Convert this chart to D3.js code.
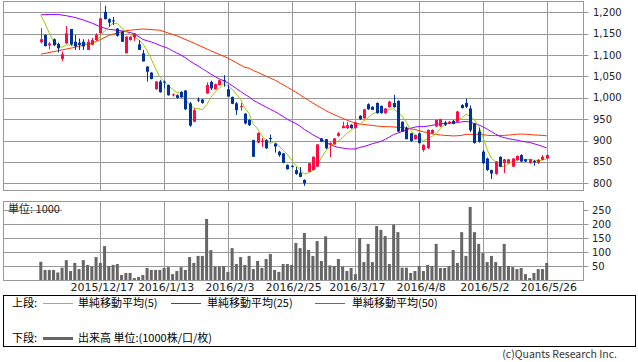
<!DOCTYPE html>
<html><head><meta charset="utf-8">
<script src="https://cdn.jsdelivr.net/npm/d3@7"></script>
<style>
body{margin:0;background:#fff}
svg{display:block;font-family:"Noto Sans CJK JP","Noto Sans",sans-serif}
.num{font-family:"DejaVu Sans",sans-serif}
</style>
</head><body><div id="chart"></div>
<script>
var width = 638, height = 362;

// daily bars, 2015/11/27 .. 2016/5/26
var open = [1130,1147,1123,1137,1126,1091,1127,1161,1131,1129,
  1131,1112,1124,1135,1151,1201,1184,1181,1162,1155,
  1104,1135,1141,1125,1104,1073,1059,1020,1038,1038,
  1030,1006,1006,1014,1017,987,944,996,996,1010,
  1037,1020,1030,1041,1020,1002,987,979,963,948,
  901,895,897,901,906,893,874,870,843,841,
  831,825,808,827,831,839,905,903,890,891,
  911,929,929,937,929,958,952,985,979,988,
  981,964,978,988,993,944,930,917,903,917,
  878,882,917,933,933,942,939,946,944,983,
  988,975,940,921,874,858,831,822,862,847,
  847,839,854,866,856,847,852,848,855,858];
var close = [1137,1121,1127,1123,1116,1102,1151,1125,1120,1124,
  1120,1131,1135,1147,1186,1184,1176,1179,1145,1131,
  1143,1143,1151,1112,1085,1061,1044,1038,1013,1036,
  1006,1008,1000,1001,973,935,971,994,988,1030,
  1022,1032,1041,1040,1003,986,971,981,940,936,
  862,918,900,882,904,886,866,848,833,839,
  822,815,800,847,862,891,897,882,894,905,
  917,934,936,929,942,950,973,973,972,964,
  964,975,991,978,921,921,903,899,913,894,
  890,925,925,948,950,937,944,939,968,976,
  979,924,894,897,847,831,823,851,839,856,
  856,858,864,851,851,856,849,855,862,866];
var high = [1163,1148,1131,1139,1129,1108,1168,1161,1147,1139,
  1137,1137,1140,1151,1186,1215,1186,1189,1163,1155,
  1145,1144,1151,1135,1112,1074,1060,1039,1042,1040,
  1031,1010,1008,1015,1018,990,975,1001,997,1036,
  1040,1033,1042,1053,1030,1003,990,988,964,950,
  902,919,906,903,914,894,876,871,844,842,
  838,838,809,848,863,892,906,904,896,906,
  920,944,943,938,943,959,974,987,980,989,
  982,976,993,1007,994,945,933,918,914,918,
  891,926,926,949,951,946,946,948,969,985,
  998,982,941,930,878,860,832,852,863,857,
  857,859,865,868,857,857,854,857,866,868];
var low = [1127,1120,1113,1121,1106,1086,1127,1122,1112,1112,
  1112,1112,1123,1133,1149,1183,1166,1170,1143,1131,
  1104,1134,1133,1112,1085,1038,1043,1019,1012,1022,
  1005,1003,998,1000,972,932,943,990,986,1010,
  1018,1019,1029,1026,1002,985,960,970,938,934,
  862,894,885,880,896,872,862,847,832,837,
  820,814,794,826,830,838,896,880,861,890,
  909,929,927,928,928,948,951,972,971,963,
  963,963,977,977,920,920,904,897,902,893,
  874,880,915,932,932,934,938,938,943,975,
  976,920,893,895,845,829,810,820,838,824,
  846,838,853,849,850,846,841,845,854,857];
var volume = [65,36,36,36,27,44,71,32,61,39,
  71,54,48,82,61,121,50,54,57,18,
  25,25,7,11,18,43,36,36,36,43,
  46,21,32,46,36,82,61,86,86,218,
  107,48,48,50,29,114,57,82,54,86,
  39,68,43,75,93,36,29,57,57,54,
  132,114,168,107,86,139,68,156,52,50,
  75,48,32,43,21,150,64,129,64,193,
  179,157,57,198,171,44,44,25,32,50,
  32,54,50,129,43,43,50,107,61,171,
  86,261,171,129,96,64,86,64,50,129,
  50,46,39,43,21,7,25,39,39,61];

// moving averages before their window fills need earlier data: [index, value]
var ma5Head  = [[0,1193],[1,1174],[2,1151],[3,1131]];
var ma25Head = [[0,1194],[2,1195],[4,1195],[6,1192],[8,1188],[10,1182],[12,1175],[14,1166],[16,1160],[18,1158],[20,1155],[22,1150]];
var ma50Head = [[0,1102],[4,1110],[8,1118],[12,1128],[14,1136],[16,1146],[20,1157],[24,1161],[28,1158],[32,1145],[36,1128],[40,1110],[44,1093],[48,1071]];

var tickIdx = [14, 29, 44, 59, 74, 89, 104, 119];
var tickLabels = ["2015/12/17","2016/1/13","2016/2/3","2016/2/25","2016/3/17","2016/4/8","2016/5/2","2016/5/26"];
var priceTicks = [800, 850, 900, 950, 1000, 1050, 1100, 1150, 1200];
var volTicks = [50, 100, 150, 200, 250];
var volGrid = [50, 100, 150, 200];

var n = close.length;
var grid = "#999";
var upCol = "#ff0a46", downCol = "#003399";

var svg = d3.select("div#chart").append("svg")
    .attr("width", width).attr("height", height);

var x = d3.scaleLinear().domain([0, n - 1]).range([40.8, 546.7]);
var y = d3.scaleLinear().domain([800, 1200]).range([183.3, 12.3]);
var yv = d3.scaleLinear().domain([0, 250]).range([280, 210]);

var L = 3.5, R = 583.5;
var crisp = (v) => Math.round(v) + 0.5;

// panels
svg.append("rect").attr("x", L).attr("y", 1.5).attr("width", R - L).attr("height", 189)
    .attr("fill", "none").attr("stroke", grid);
svg.append("rect").attr("x", L).attr("y", 201.5).attr("width", R - L).attr("height", 79)
    .attr("fill", "none").attr("stroke", grid);

// grid lines + ticks
svg.selectAll("line.hp").data(priceTicks).enter().append("line")
    .attr("x1", L).attr("x2", R + 5)
    .attr("y1", (d) => crisp(y(d))).attr("y2", (d) => crisp(y(d)))
    .attr("stroke", grid);
svg.selectAll("line.hv").data(volGrid).enter().append("line")
    .attr("x1", L).attr("x2", R)
    .attr("y1", (d) => crisp(yv(d))).attr("y2", (d) => crisp(yv(d)))
    .attr("stroke", grid);
svg.selectAll("line.tv").data(volTicks).enter().append("line")
    .attr("x1", R).attr("x2", R + 5)
    .attr("y1", (d) => crisp(yv(d))).attr("y2", (d) => crisp(yv(d)))
    .attr("stroke", grid);
svg.selectAll("line.vp").data(tickIdx).enter().append("line")
    .attr("x1", (d) => crisp(x(d))).attr("x2", (d) => crisp(x(d)))
    .attr("y1", 1.5).attr("y2", 190.5).attr("stroke", grid);
svg.selectAll("line.vv").data(tickIdx).enter().append("line")
    .attr("x1", (d) => crisp(x(d))).attr("x2", (d) => crisp(x(d)))
    .attr("y1", 201.5).attr("y2", 280.5).attr("stroke", grid);
// the 250 line only shows behind the unit label
svg.append("line").attr("x1", L).attr("x2", 62)
    .attr("y1", crisp(yv(250))).attr("y2", crisp(yv(250))).attr("stroke", grid);

// axis labels
svg.selectAll("text.py").data(priceTicks).enter().append("text")
    .attr("class", "num").attr("x", 593).attr("y", (d) => y(d) + 3.5)
    .attr("font-size", 10).attr("fill", "#222")
    .text((d) => d3.format(",")(d));
svg.selectAll("text.vy").data(volTicks).enter().append("text")
    .attr("class", "num").attr("x", 592).attr("y", (d) => yv(d) + 3.5)
    .attr("font-size", 10).attr("fill", "#222")
    .text((d) => d);
svg.selectAll("text.xl").data(tickIdx).enter().append("text")
    .attr("class", "num").attr("x", (d) => x(d) + 2).attr("y", 291)
    .attr("text-anchor", "middle").attr("font-size", 11).attr("fill", "#222")
    .text((d, i) => tickLabels[i]);
svg.append("text").attr("x", 8).attr("y", 213).attr("font-size", 11).attr("fill", "#222")
    .text("単位: 1000");

// volume bars
svg.selectAll("rect.vol").data(volume).enter().append("rect")
    .attr("x", (d, i) => x(i) - 1.5).attr("width", 3)
    .attr("y", (d) => yv(d)).attr("height", (d) => yv(0) - yv(d))
    .attr("fill", "#666");

// moving averages
function movingAvg(k, head) {
    var pts = head.slice();
    for (var i = k - 1; i < n; i++) pts.push([i, d3.mean(close.slice(i - k + 1, i + 1))]);
    return pts;
}
var line = d3.line().x((d) => x(d[0])).y((d) => y(d[1]));
[[movingAvg(50, ma50Head), "#ff3300"],
 [movingAvg(25, ma25Head), "#9900ff"],
 [movingAvg(5, ma5Head), "#99cc00"]].forEach(function(s) {
    svg.append("path").attr("d", line(s[0])).attr("fill", "none")
        .attr("stroke", s[1]).attr("stroke-width", 1);
});

// candles
var idx = d3.range(n);
var col = (i) => close[i] >= open[i] ? upCol : downCol;
svg.selectAll("line.wick").data(idx).enter().append("line")
    .attr("x1", (i) => crisp(x(i))).attr("x2", (i) => crisp(x(i)))
    .attr("y1", (i) => y(high[i])).attr("y2", (i) => y(low[i]))
    .attr("stroke", col);
svg.selectAll("rect.body").data(idx).enter().append("rect")
    .attr("x", (i) => Math.round(x(i)) - 1).attr("width", 3)
    .attr("y", (i) => y(Math.max(open[i], close[i])))
    .attr("height", (i) => Math.max(1, Math.abs(y(open[i]) - y(close[i]))))
    .attr("fill", col);

// legend
svg.append("rect").attr("x", 3.5).attr("y", 295.5).attr("width", 632).attr("height", 51)
    .attr("fill", "none").attr("stroke", "#000");
var leg = [
    {lx: 43, tx: 78, label: "単純移動平均(5)", c: "#99cc00"},
    {lx: 171, tx: 207, label: "単純移動平均(25)", c: "#9900ff"},
    {lx: 315, tx: 352, label: "単純移動平均(50)", c: "#ff3300"}];
svg.append("text").attr("x", 12).attr("y", 307).attr("font-size", 11).text("上段:");
leg.forEach(function(d) {
    svg.append("line").attr("x1", d.lx).attr("x2", d.lx + 30).attr("y1", 303.5).attr("y2", 303.5)
        .attr("stroke", d.c);
    svg.append("text").attr("x", d.tx).attr("y", 307).attr("font-size", 11).text(d.label);
});
svg.append("text").attr("x", 12).attr("y", 342).attr("font-size", 11).text("下段:");
svg.append("line").attr("x1", 43).attr("x2", 73).attr("y1", 338.5).attr("y2", 338.5)
    .attr("stroke", "#666").attr("stroke-width", 3);
svg.append("text").attr("x", 78).attr("y", 342).attr("font-size", 11).text("出来高 単位:(1000株/口/枚)");

svg.append("text").attr("x", 617).attr("y", 358).attr("text-anchor", "end")
    .attr("font-size", 10.5).attr("fill", "#333").text("(c)Quants Research Inc.");
</script>
</body></html>
